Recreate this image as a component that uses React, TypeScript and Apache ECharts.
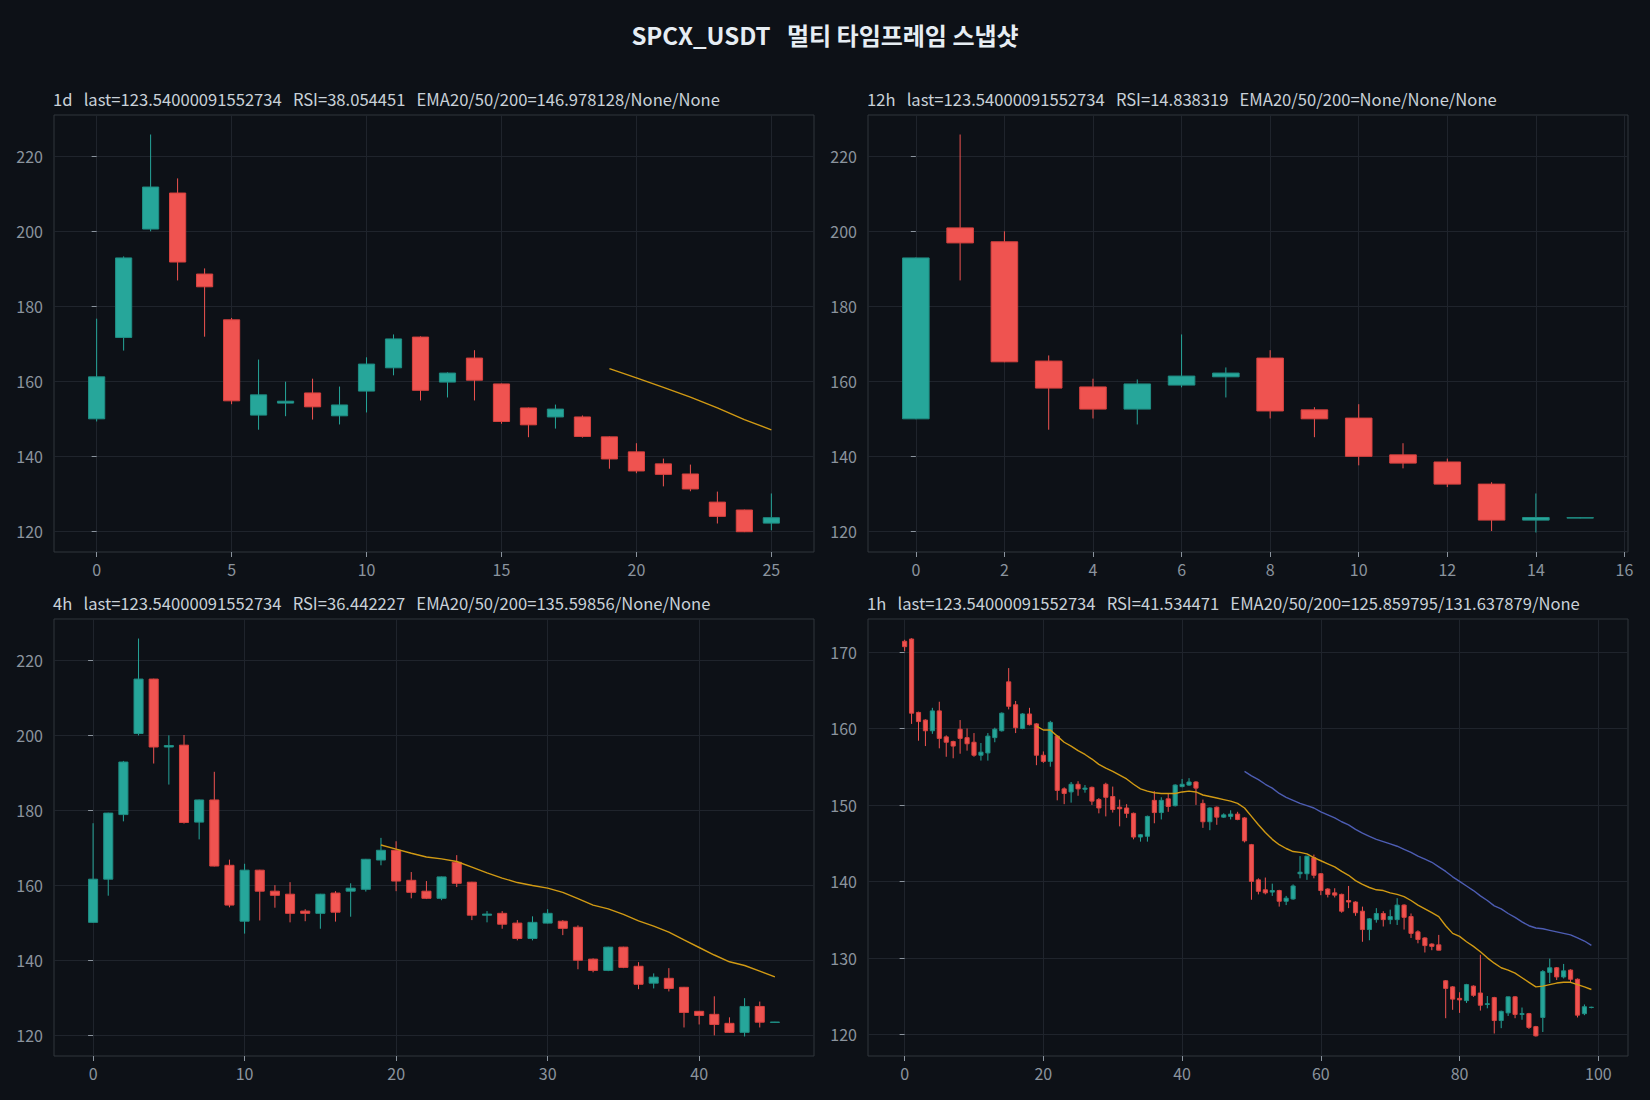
import React, { useEffect, useRef } from "react";
import * as echarts from "echarts";

const MAIN_TITLE = "SPCX_USDT   멀티 타임프레임 스냅샷";
const PANEL_TITLES = [
  "1d   last=123.54000091552734   RSI=38.054451   EMA20/50/200=146.978128/None/None",
  "12h   last=123.54000091552734   RSI=14.838319   EMA20/50/200=None/None/None",
  "4h   last=123.54000091552734   RSI=36.442227   EMA20/50/200=135.59856/None/None",
  "1h   last=123.54000091552734   RSI=41.534471   EMA20/50/200=125.859795/131.637879/None",
];

// [open, high, low, close]
type OHLC = [number, number, number, number];

const CANDLES_1D: OHLC[] = [
  [149.9, 176.6, 149.2, 161.1], [171.6, 193.2, 168.1, 192.8], [200.5, 225.7, 199.9, 211.7],
  [210.1, 214.0, 186.8, 191.7], [188.5, 190.0, 171.8, 185.1], [176.3, 176.8, 153.8, 154.7],
  [150.9, 165.7, 147.0, 156.3], [154.1, 159.8, 150.6, 154.6], [156.8, 160.6, 149.7, 153.1],
  [150.7, 158.5, 148.4, 153.6], [157.3, 166.3, 151.6, 164.5], [163.5, 172.4, 161.5, 171.2],
  [171.7, 171.9, 154.8, 157.5], [159.7, 162.3, 155.6, 162.1], [166.1, 168.2, 154.8, 160.2],
  [159.2, 159.3, 148.6, 149.2], [152.8, 152.9, 145.0, 148.3], [150.4, 153.7, 147.3, 152.5],
  [150.4, 150.8, 144.9, 145.2], [145.1, 145.2, 136.6, 139.2], [141.1, 143.4, 135.4, 136.0],
  [137.9, 139.3, 131.9, 135.1], [135.2, 137.7, 130.6, 131.2], [127.7, 130.5, 122.0, 123.9],
  [125.6, 125.7, 119.7, 119.8], [122.1, 130.0, 120.2, 123.54],
];
const EMA20_1D_START = 19;
const EMA20_1D = [163.3, 160.8, 158.3, 155.7, 152.8, 149.7, 146.98];

const CANDLES_12H: OHLC[] = [
  [149.9, 192.9, 149.8, 192.8], [200.8, 225.7, 186.8, 196.8], [197.1, 199.9, 165.0, 165.1],
  [165.3, 166.8, 147.0, 158.1], [158.4, 160.6, 150.0, 152.5], [152.5, 160.4, 148.4, 159.2],
  [158.9, 172.4, 158.3, 161.3], [161.1, 163.6, 155.6, 162.1], [166.1, 168.2, 150.0, 152.0],
  [152.3, 153.0, 145.0, 149.9], [150.1, 153.8, 137.5, 139.9], [140.3, 143.4, 136.7, 138.1],
  [138.4, 139.3, 131.7, 132.5], [132.5, 133.0, 120.0, 122.9], [122.9, 130.0, 119.6, 123.6],
  [123.45, 123.6, 123.4, 123.54],
];

const CANDLES_4H: OHLC[] = [
  [150.1, 176.5, 150.0, 161.6], [161.6, 179.3, 157.2, 179.2], [178.8, 193.1, 177.0, 192.8],
  [200.4, 225.7, 199.9, 214.9], [214.9, 215.0, 192.4, 196.8], [196.8, 199.9, 186.8, 197.2],
  [197.3, 200.0, 176.4, 176.7], [176.8, 182.8, 172.2, 182.7], [182.7, 190.2, 165.0, 165.1],
  [165.3, 166.8, 154.1, 154.7], [150.4, 165.7, 147.1, 164.0], [164.0, 164.1, 150.6, 158.4],
  [158.4, 160.0, 154.0, 157.3], [157.6, 160.8, 150.1, 152.5], [153.1, 153.6, 150.4, 152.5],
  [152.5, 157.7, 148.4, 157.6], [157.9, 158.4, 150.3, 152.8], [158.4, 160.5, 151.6, 159.2],
  [158.9, 167.0, 158.3, 166.9], [166.7, 172.6, 165.3, 169.3], [169.3, 171.7, 158.4, 161.1],
  [161.3, 163.5, 156.5, 158.1], [158.4, 161.1, 156.3, 156.5], [156.5, 162.3, 156.0, 162.2],
  [166.1, 168.0, 159.5, 160.5], [160.8, 160.9, 150.7, 152.0], [152.0, 153.1, 150.1, 152.3],
  [152.5, 153.1, 148.4, 149.6], [149.9, 150.7, 145.3, 145.8], [145.8, 151.7, 145.3, 150.1],
  [149.9, 153.6, 149.8, 152.5], [150.4, 150.7, 146.7, 148.5], [148.8, 149.3, 137.6, 140.0],
  [140.3, 140.5, 136.8, 137.3], [137.3, 143.6, 137.1, 143.5], [143.5, 143.6, 137.9, 138.1],
  [138.4, 139.5, 132.3, 133.6], [133.9, 136.5, 132.5, 135.5], [135.2, 137.9, 131.7, 132.5],
  [132.8, 132.9, 122.1, 126.1], [126.4, 126.5, 122.9, 125.3], [125.6, 130.4, 120.0, 122.9],
  [123.2, 124.8, 120.7, 120.8], [120.8, 129.9, 119.7, 127.7], [127.7, 129.0, 122.1, 123.5],
  [123.45, 123.6, 123.4, 123.54],
];
const EMA20_4H_START = 19;
const EMA20_4H = [
  170.7, 169.6, 168.5, 167.5, 167.0, 166.3, 164.8, 163.3, 161.9, 160.7, 159.9, 159.2, 158.1,
  156.4, 154.7, 153.7, 152.2, 150.5, 149.1, 147.5, 145.4, 143.4, 141.4, 139.6, 138.6, 137.1, 135.6,
];

const CANDLES_1H: OHLC[] = [
  [171.4, 171.6, 170.1, 170.7], [171.7, 171.8, 160.6, 162.0], [162.1, 162.2, 158.4, 160.9],
  [161.1, 161.2, 157.7, 159.7], [159.7, 162.7, 159.3, 162.3], [162.3, 163.5, 157.4, 158.7],
  [158.9, 159.1, 156.3, 158.2], [158.3, 158.4, 156.1, 157.7], [159.9, 161.1, 156.7, 158.7],
  [158.8, 160.0, 157.1, 158.0], [158.2, 159.4, 156.3, 156.5], [156.5, 158.1, 155.8, 156.9],
  [156.8, 159.4, 155.8, 159.0], [158.8, 160.1, 158.2, 159.9], [159.7, 162.1, 159.6, 162.0],
  [166.1, 167.9, 162.5, 162.9], [163.1, 163.6, 159.4, 160.1], [160.0, 162.0, 159.9, 161.9],
  [161.9, 162.7, 160.4, 160.5], [160.6, 160.7, 155.2, 156.5], [156.5, 157.0, 155.5, 155.7],
  [155.7, 161.0, 155.0, 160.8], [159.0, 159.1, 150.6, 151.9], [152.1, 152.3, 150.1, 151.5],
  [151.7, 153.0, 150.3, 152.7], [152.7, 153.1, 151.2, 152.1], [152.05, 152.6, 151.6, 152.2],
  [152.3, 152.4, 150.0, 150.5], [150.7, 150.9, 148.9, 149.6], [152.7, 152.9, 148.5, 151.0],
  [151.1, 152.4, 149.0, 149.4], [149.7, 150.7, 147.2, 149.5], [149.6, 150.1, 148.3, 148.9],
  [148.9, 149.0, 145.5, 145.8], [145.8, 146.2, 145.2, 146.1], [145.9, 148.6, 145.2, 148.5],
  [150.6, 151.8, 147.6, 149.0], [149.0, 151.0, 148.1, 150.6], [150.8, 151.5, 149.1, 149.8],
  [149.9, 152.7, 149.8, 152.6], [152.4, 153.4, 152.3, 152.7], [152.6, 153.5, 152.5, 153.0],
  [153.0, 153.1, 150.0, 152.2], [150.2, 150.7, 147.0, 147.8], [147.8, 149.7, 146.7, 149.6],
  [149.7, 149.8, 147.4, 148.4], [148.4, 148.9, 148.3, 148.7], [148.5, 149.3, 148.1, 148.8],
  [148.8, 149.1, 148.0, 148.1], [148.3, 148.4, 145.1, 145.3], [144.8, 144.9, 137.6, 140.0],
  [140.2, 140.4, 138.3, 138.7], [138.9, 140.5, 138.3, 138.5], [138.6, 139.7, 138.1, 138.8],
  [138.8, 138.9, 136.7, 137.4], [137.4, 138.1, 136.9, 137.8], [137.7, 139.6, 137.6, 139.4],
  [141.0, 143.3, 140.4, 141.2], [141.0, 143.3, 140.2, 143.3], [143.1, 143.5, 140.4, 140.8],
  [141.0, 141.1, 138.2, 138.8], [139.0, 139.1, 137.9, 138.3], [138.5, 139.1, 137.9, 138.2],
  [138.3, 138.4, 135.9, 136.1], [137.5, 139.4, 136.5, 137.3], [137.3, 137.4, 135.5, 135.9],
  [136.1, 136.7, 132.1, 133.7], [133.7, 135.2, 132.3, 135.1], [135.0, 136.5, 134.6, 135.8],
  [135.8, 136.1, 134.1, 135.0], [135.0, 136.3, 134.4, 135.4], [135.0, 137.8, 134.3, 136.9],
  [136.9, 137.0, 133.7, 135.3], [135.4, 135.8, 132.6, 133.2], [133.4, 133.6, 131.9, 132.4],
  [132.6, 132.7, 130.7, 131.6], [131.8, 131.9, 131.0, 131.5], [131.7, 133.0, 131.0, 131.0],
  [127.0, 127.1, 122.1, 126.0], [126.2, 126.3, 123.2, 124.6], [124.7, 125.5, 122.8, 124.5],
  [124.4, 126.6, 124.1, 126.5], [126.3, 126.4, 124.9, 125.1], [125.4, 130.4, 123.1, 123.8],
  [123.9, 125.0, 123.4, 124.0], [124.8, 124.9, 120.1, 121.8], [121.8, 123.1, 120.8, 123.0],
  [122.8, 124.9, 122.4, 124.9], [124.9, 125.0, 122.1, 122.6], [122.6, 123.5, 121.9, 122.7],
  [122.7, 122.8, 120.7, 120.9], [121.0, 121.1, 119.7, 119.8], [122.2, 128.4, 120.3, 128.2],
  [128.1, 129.9, 126.7, 128.7], [128.7, 128.8, 127.1, 127.5], [127.5, 129.2, 127.3, 128.3],
  [128.4, 128.5, 126.8, 127.2], [127.2, 127.3, 122.2, 122.5], [122.7, 123.9, 122.5, 123.6],
  [123.5, 123.6, 123.4, 123.54],
];
const EMA20_1H_START = 19;
const EMA20_1H = [
  160.3, 159.8, 159.8, 159.0, 158.2, 157.7, 157.1, 156.6, 156.0, 155.3, 154.8, 154.4, 153.9,
  153.4, 152.7, 152.1, 151.8, 151.6, 151.5, 151.5, 151.5, 151.7, 151.8, 151.7, 151.3, 151.1,
  150.9, 150.7, 150.5, 150.2, 149.6, 148.5, 147.4, 146.4, 145.5, 144.8, 144.3, 143.9, 143.8,
  143.6, 143.1, 142.7, 142.3, 141.9, 141.3, 140.8, 140.1, 139.6, 139.2, 138.9, 138.8, 138.5,
  138.3, 138.0, 137.5, 136.9, 136.4, 135.9, 135.4, 134.2, 133.2, 132.8, 132.1, 131.5, 130.8,
  130.0, 129.3, 128.7, 128.4, 128.0, 127.4, 126.8, 126.2, 126.3, 126.5, 126.7, 126.8, 126.8,
  126.5, 126.2, 125.86,
];
const EMA50_1H_START = 49;
const EMA50_1H = [
  154.4, 153.8, 153.3, 152.7, 152.2, 151.5, 151.0, 150.6, 150.2, 149.9, 149.6, 149.1, 148.7,
  148.3, 147.8, 147.4, 146.8, 146.3, 145.9, 145.5, 145.2, 144.9, 144.6, 144.2, 143.8, 143.3,
  142.9, 142.5, 141.9, 141.3, 140.6, 140.0, 139.4, 138.8, 138.1, 137.5, 136.8, 136.4, 135.8,
  135.3, 134.7, 134.2, 133.9, 133.8, 133.6, 133.4, 133.2, 133.0, 132.6, 132.2, 131.64,
];

const Y_TICKS_MAIN = [120, 140, 160, 180, 200, 220];
const Y_TICKS_1H = [120, 130, 140, 150, 160, 170];
const X_TICKS_1D = [0, 5, 10, 15, 20, 25];
const X_TICKS_12H = [0, 2, 4, 6, 8, 10, 12, 14, 16];
const X_TICKS_4H = [0, 10, 20, 30, 40];
const X_TICKS_1H = [0, 20, 40, 60, 80, 100];

const BG = "#0d1117";
const UP = "#26a69a";
const DOWN = "#ef5350";
const UP_EDGE = "#1f8d83";
const DOWN_EDGE = "#d8423f";
const EMA20_COLOR = "#d19a14";
const EMA50_COLOR = "#4d5db3";
const FONT = "'Noto Sans CJK KR', 'Noto Sans', sans-serif";

const GRIDS = [
  { left: 54, top: 115, width: 760, height: 437 },
  { left: 868, top: 115, width: 760, height: 437 },
  { left: 54, top: 619, width: 760, height: 437 },
  { left: 868, top: 619, width: 760, height: 437 },
];

const PANELS = [
  { candles: CANDLES_1D, xMin: -1.58, xMax: 26.58, yMin: 114.4, yMax: 230.9, xTicks: X_TICKS_1D, yTicks: Y_TICKS_MAIN, xSplit: 5, ySplit: 6 },
  { candles: CANDLES_12H, xMin: -1.08, xMax: 16.08, yMin: 114.4, yMax: 230.9, xTicks: X_TICKS_12H, yTicks: Y_TICKS_MAIN, xSplit: 8, ySplit: 6 },
  { candles: CANDLES_4H, xMin: -2.58, xMax: 47.58, yMin: 114.5, yMax: 230.9, xTicks: X_TICKS_4H, yTicks: Y_TICKS_MAIN, xSplit: 5, ySplit: 6 },
  { candles: CANDLES_1H, xMin: -5.28, xMax: 104.28, yMin: 117.16, yMax: 174.32, xTicks: X_TICKS_1H, yTicks: Y_TICKS_1H, xSplit: 5, ySplit: 6 },
];

const EMAS = [
  { panel: 0, start: EMA20_1D_START, values: EMA20_1D, color: EMA20_COLOR },
  { panel: 2, start: EMA20_4H_START, values: EMA20_4H, color: EMA20_COLOR },
  { panel: 3, start: EMA20_1H_START, values: EMA20_1H, color: EMA20_COLOR },
  { panel: 3, start: EMA50_1H_START, values: EMA50_1H, color: EMA50_COLOR },
];

const TICK_COLOR = "#8b949e";

function candleRenderItem(params: any, api: any) {
  const x = api.value(0);
  const o = api.value(1);
  const h = api.value(2);
  const l = api.value(3);
  const c = api.value(4);
  const up = c >= o;
  const pO = api.coord([x, o]);
  const pC = api.coord([x, c]);
  const pH = api.coord([x, h]);
  const pL = api.coord([x, l]);
  const w = api.size([0.6, 0])[0];
  const top = Math.min(pO[1], pC[1]);
  const hgt = Math.abs(pO[1] - pC[1]);
  return {
    type: "group",
    children: [
      {
        type: "line",
        shape: { x1: pH[0], y1: pH[1], x2: pL[0], y2: pL[1] },
        style: { stroke: up ? UP : DOWN, lineWidth: 1 },
      },
      {
        type: "rect",
        shape: { x: pO[0] - w / 2, y: top, width: w, height: hgt },
        style: { fill: up ? UP : DOWN, stroke: up ? UP_EDGE : DOWN_EDGE, lineWidth: 1 },
      },
    ],
  };
}

function buildOption() {
  const xAxis = PANELS.map((p, i) => ({
    type: "value",
    gridIndex: i,
    min: p.xMin,
    max: p.xMax,
    splitNumber: p.xSplit,
    axisLine: { show: false },
    axisTick: { show: true, length: 5, lineStyle: { color: TICK_COLOR }, customValues: p.xTicks },
    axisLabel: { color: TICK_COLOR, fontSize: 16, fontFamily: FONT, margin: 9, customValues: p.xTicks },
    splitLine: { show: true, lineStyle: { color: "#1f242c", width: 1 } },
  }));
  const yAxis = PANELS.map((p, i) => ({
    type: "value",
    gridIndex: i,
    min: p.yMin,
    max: p.yMax,
    splitNumber: p.ySplit,
    axisLine: { show: false },
    axisTick: { show: true, length: 5, lineStyle: { color: TICK_COLOR }, customValues: p.yTicks },
    axisLabel: { color: TICK_COLOR, fontSize: 16, fontFamily: FONT, margin: 11, customValues: p.yTicks },
    splitLine: { show: true, lineStyle: { color: "#1f242c", width: 1 } },
  }));
  const candleSeries = PANELS.map((p, i) => ({
    type: "custom",
    xAxisIndex: i,
    yAxisIndex: i,
    clip: true,
    renderItem: candleRenderItem,
    encode: { x: 0, y: [1, 2, 3, 4] },
    data: p.candles.map((c, k) => [k, c[0], c[1], c[2], c[3]]),
    z: 2,
  }));
  const emaSeries = EMAS.map((e) => ({
    type: "line",
    xAxisIndex: e.panel,
    yAxisIndex: e.panel,
    showSymbol: false,
    symbol: "none",
    lineStyle: { color: e.color, width: 1.4 },
    data: e.values.map((v, k) => [e.start + k, v]),
    z: 3,
  }));
  const titles: any[] = [
    {
      text: MAIN_TITLE,
      left: "center",
      top: 18,
      padding: 0,
      textStyle: { color: "#e6edf3", fontSize: 24, fontWeight: "bold", fontFamily: FONT, lineHeight: 32 },
    },
  ];
  PANEL_TITLES.forEach((t, i) => {
    titles.push({
      text: t,
      left: GRIDS[i].left - 1,
      top: GRIDS[i].top - 26,
      padding: 0,
      textStyle: { color: "#c9d1d9", fontSize: 16.6, fontWeight: "normal", fontFamily: FONT, lineHeight: 20 },
    });
  });
  return {
    animation: false,
    backgroundColor: BG,
    title: titles,
    grid: GRIDS.map((g) => ({ ...g, show: true, borderColor: "#30363d", borderWidth: 1, backgroundColor: "transparent" })),
    xAxis,
    yAxis,
    series: [...candleSeries, ...emaSeries],
  };
}

export default function App() {
  const ref = useRef<HTMLDivElement>(null);
  useEffect(() => {
    if (!ref.current) return;
    const chart = echarts.init(ref.current, null, { renderer: "svg" });
    chart.setOption(buildOption() as any);
    return () => {
      chart.dispose();
    };
  }, []);
  return (
    <div
      ref={ref}
      style={{ position: "absolute", left: 0, top: 0, width: 1650, height: 1100, background: BG }}
    />
  );
}
